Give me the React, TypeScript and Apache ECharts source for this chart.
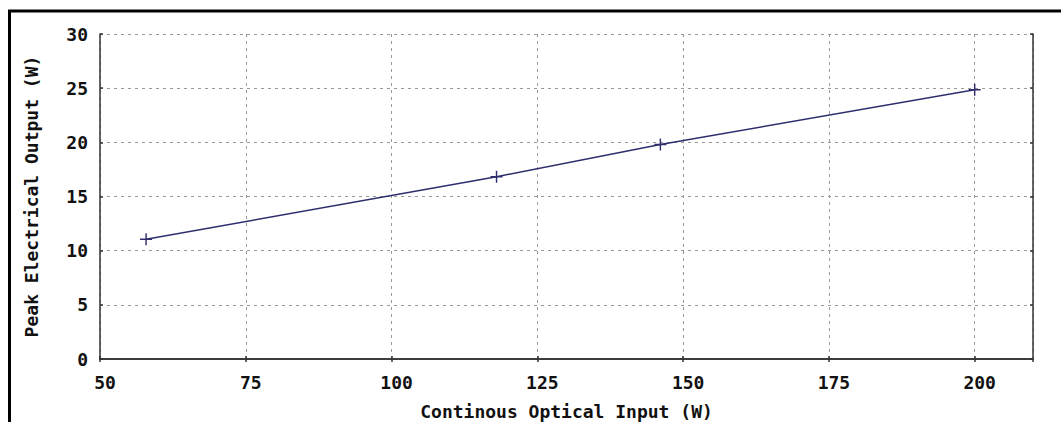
import React, { useEffect, useRef } from "react";
import * as echarts from "echarts";

const inputPower = [57.9, 118.0, 146.1, 200.0];
const outputPower = [11.05, 16.83, 19.8, 24.85];
const xTitle = "Continous Optical Input (W)";
const yTitle = "Peak Electrical Output (W)";

const FONT = "'DejaVu Sans Mono', monospace";

export default function App() {
  const ref = useRef<HTMLDivElement>(null);
  useEffect(() => {
    document.body.style.margin = "0";
    const chart = echarts.init(ref.current!, null, { renderer: "svg" });
    const axisLine = { show: true, lineStyle: { color: "#333", width: 1.5 } };
    const tick = { show: true, inside: true, length: 3, lineStyle: { color: "#333", width: 1.5 } };
    const split = { show: true, lineStyle: { color: "#999", type: [3, 4], width: 1 } };
    const label = { color: "#111", fontFamily: FONT, fontWeight: "bold", fontSize: 18 };
    chart.setOption({
      animation: false,
      backgroundColor: "#fff",
      grid: { left: 100, top: 34, right: 28, bottom: 63, containLabel: false, outerBoundsMode: "none" },
      graphic: [
        {
          type: "rect",
          shape: { x: 9.5, y: 11, width: 1100, height: 500 },
          style: { fill: "none", stroke: "#000", lineWidth: 3 },
          silent: true,
        },
      ],
      xAxis: [
        {
          type: "value",
          min: 50,
          max: 210,
          interval: 25,
          position: "bottom",
          axisLine,
          axisTick: tick,
          splitLine: split,
          axisLabel: { ...label, margin: 14, showMaxLabel: false, padding: [0, 0, 0, 10] },
          name: xTitle,
          nameLocation: "middle",
          nameGap: 43,
          nameTextStyle: { ...label, fontSize: 18, lineHeight: 18 },
        },
        {
          type: "value",
          min: 50,
          max: 210,
          interval: 25,
          position: "top",
          axisLine,
          axisTick: tick,
          splitLine: { show: false },
          axisLabel: { show: false },
        },
      ],
      yAxis: [
        {
          type: "value",
          min: 0,
          max: 30,
          interval: 5,
          position: "left",
          axisLine,
          axisTick: tick,
          splitLine: split,
          axisLabel: { ...label, margin: 12, padding: [4, 0, 0, 0] },
          name: yTitle,
          nameLocation: "middle",
          nameGap: 60,
          nameTextStyle: label,
        },
        {
          type: "value",
          min: 0,
          max: 30,
          interval: 5,
          position: "right",
          axisLine,
          axisTick: tick,
          splitLine: { show: false },
          axisLabel: { show: false },
        },
      ],
      series: [
        {
          type: "line",
          xAxisIndex: 0,
          yAxisIndex: 0,
          data: inputPower.map((x, i) => [x, outputPower[i]]),
          lineStyle: { color: "#2e2e6e", width: 1.5 },
          itemStyle: { color: "#2e2e6e" },
          symbol: "path://M4.4,0h1.2v10h-1.2z M0,4.4h10v1.2h-10z",
          symbolSize: 12,
          showSymbol: true,
        },
      ],
    });
    return () => chart.dispose();
  }, []);
  return <div ref={ref} style={{ width: 1061, height: 422 }} />;
}
